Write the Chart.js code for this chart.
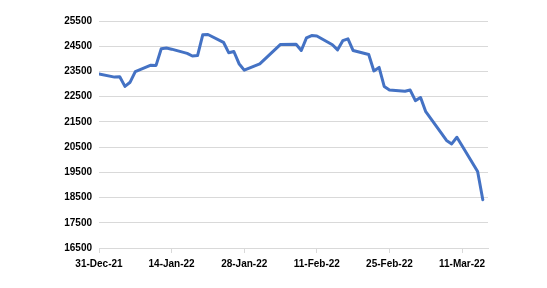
<!DOCTYPE html>
<html>
<head>
<meta charset="utf-8">
<script src="https://cdn.jsdelivr.net/npm/chart.js@4/dist/chart.umd.min.js"></script>
<style>
  html, body { margin: 0; padding: 0; background: #fff; }
  #wrap { width: 547px; height: 288px; }
</style>
</head>
<body>
<div id="wrap"><canvas id="chart" width="547" height="288"></canvas></div>
<script>
// trading days and closing values
const dates = [
  "2021-12-31", "2022-01-03", "2022-01-04", "2022-01-05", "2022-01-06", "2022-01-07",
  "2022-01-10", "2022-01-11", "2022-01-12", "2022-01-13", "2022-01-14",
  "2022-01-17", "2022-01-18", "2022-01-19", "2022-01-20", "2022-01-21",
  "2022-01-24", "2022-01-25", "2022-01-26", "2022-01-27", "2022-01-28",
  "2022-01-31", "2022-02-04",
  "2022-02-07", "2022-02-08", "2022-02-09", "2022-02-10", "2022-02-11",
  "2022-02-14", "2022-02-15", "2022-02-16", "2022-02-17", "2022-02-18",
  "2022-02-21", "2022-02-22", "2022-02-23", "2022-02-24", "2022-02-25",
  "2022-02-28", "2022-03-01", "2022-03-02", "2022-03-03", "2022-03-04",
  "2022-03-07", "2022-03-08", "2022-03-09", "2022-03-10", "2022-03-11",
  "2022-03-14", "2022-03-15"
];
const closes = [
  23398, 23275, 23290, 22907, 23073, 23493,
  23747, 23739, 24402, 24430, 24383,
  24218, 24113, 24128, 24952, 24966,
  24656, 24244, 24290, 23807, 23550,
  23802, 24573,
  24580, 24329, 24830, 24924, 24907,
  24557, 24356, 24719, 24793, 24328,
  24170, 23520, 23660, 22902, 22767,
  22713, 22762, 22344, 22467, 21905,
  21057, 20766, 20628, 20890, 20554,
  19532, 18415
];
const tickDates = ["2021-12-31", "2022-01-14", "2022-01-28", "2022-02-11", "2022-02-25", "2022-03-11"];
const yTicks = [16500, 17500, 18500, 19500, 20500, 21500, 22500, 23500, 24500, 25500];

const DAY = 86400000;
const start = Date.parse(dates[0]);
const dayOf = d => Math.round((Date.parse(d) - start) / DAY);
const months = ["Jan","Feb","Mar","Apr","May","Jun","Jul","Aug","Sep","Oct","Nov","Dec"];
function fmt(day) {
  const d = new Date(start + day * DAY);
  const dd = String(d.getUTCDate()).padStart(2, "0");
  return dd + "-" + months[d.getUTCMonth()] + "-" + String(d.getUTCFullYear()).slice(2);
}

const points = dates.map((d, i) => ({ x: dayOf(d), y: closes[i] }));
const font = { family: "'Liberation Sans', Arial, sans-serif", size: 10, weight: "bold" };

new Chart(document.getElementById("chart").getContext("2d"), {
  type: "line",
  data: {
    datasets: [{
      data: points,
      borderColor: "#4472C4",
      borderWidth: 3,
      pointRadius: 0,
      tension: 0,
      borderJoinStyle: "round",
      borderCapStyle: "round"
    }]
  },
  options: {
    responsive: false,
    animation: false,
    layout: { padding: { left: 0, right: 59, top: 21, bottom: 9 } },
    plugins: { legend: { display: false }, tooltip: { enabled: false } },
    scales: {
      x: {
        type: "linear",
        min: 0,
        max: 75,
        afterBuildTicks: axis => { axis.ticks = tickDates.map(d => ({ value: dayOf(d) })); },
        afterFit: axis => { axis.height = 31; },
        ticks: {
          color: "#000",
          font: font,
          maxRotation: 0,
          autoSkip: false,
          padding: 5,
          callback: v => fmt(v)
        },
        grid: { drawOnChartArea: false, color: "#d9d9d9", tickLength: 5 },
        border: { color: "#d9d9d9", width: 1 }
      },
      y: {
        min: 16500,
        max: 25500,
        afterBuildTicks: axis => { axis.ticks = yTicks.map(v => ({ value: v })); },
        afterFit: axis => { axis.width = 99; },
        ticks: { color: "#000", font: font, padding: 7, callback: v => String(v) },
        grid: { color: "#d9d9d9", drawTicks: false },
        border: { display: false }
      }
    }
  }
});
</script>
</body>
</html>
